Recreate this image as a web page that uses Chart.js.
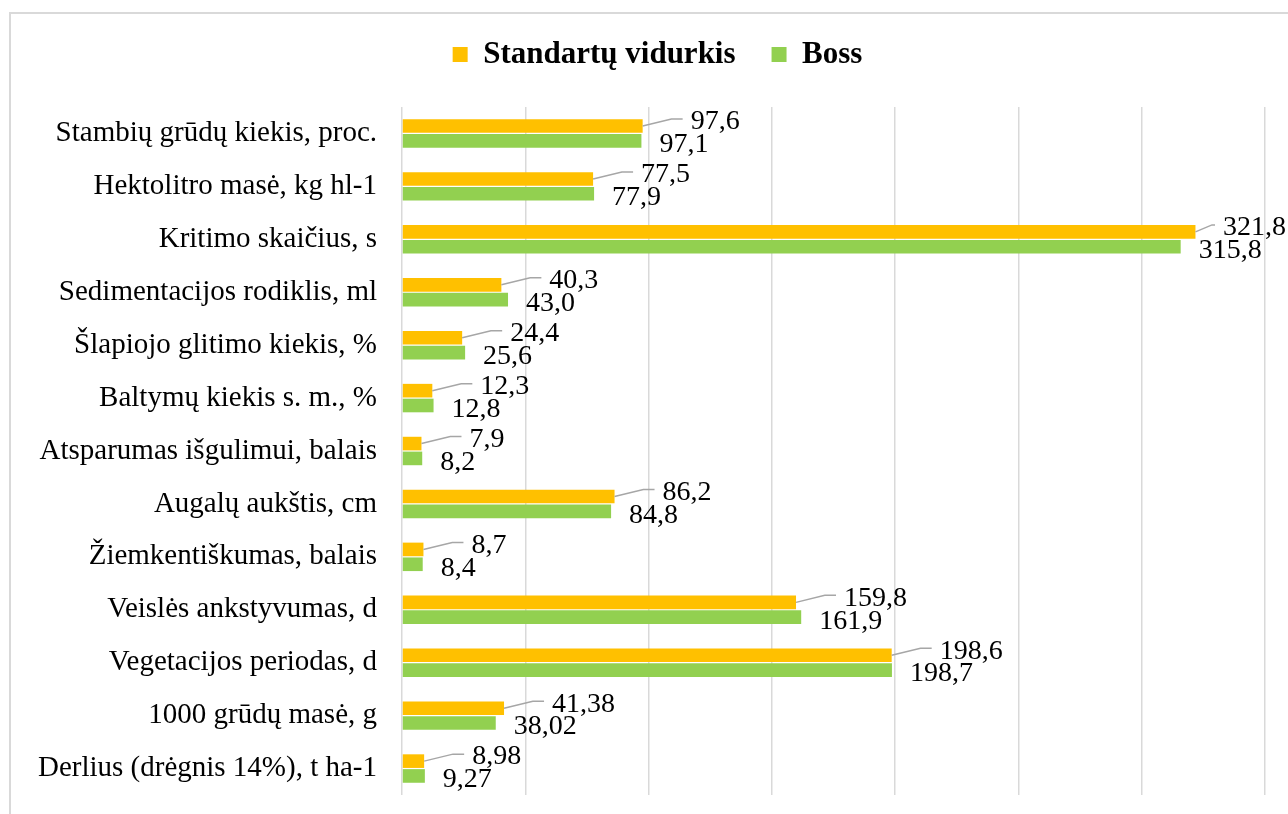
<!DOCTYPE html>
<html>
<head>
<meta charset="utf-8">
<script src="https://cdn.jsdelivr.net/npm/chart.js"></script>
<style>
  html, body { margin: 0; padding: 0; background: #fff; overflow: hidden; }
  #frame { position: absolute; left: 9px; top: 12px; width: 1300px; height: 820px; border: 2px solid #d9d9d9; }
  #wrap { position: absolute; left: 0; top: 0; width: 1288px; height: 814px; }
</style>
</head>
<body>
<div id="frame"></div>
<div id="wrap"><canvas id="myChart" width="1288" height="814"></canvas></div>
<script>
// kategorijos (iš viršaus į apačią)
const categories = [
    'Stambių grūdų kiekis, proc.',
    'Hektolitro masė, kg hl-1',
    'Kritimo skaičius, s',
    'Sedimentacijos rodiklis, ml',
    'Šlapiojo glitimo kiekis, %',
    'Baltymų kiekis s. m., %',
    'Atsparumas išgulimui, balais',
    'Augalų aukštis, cm',
    'Žiemkentiškumas, balais',
    'Veislės ankstyvumas, d',
    'Vegetacijos periodas, d',
    '1000 grūdų masė, g',
    'Derlius (drėgnis 14%), t ha-1'
];
const standartuVidurkis = [97.6, 77.5, 321.8, 40.3, 24.4, 12.3, 7.9, 86.2, 8.7, 159.8, 198.6, 41.38, 8.98];
const boss = [97.1, 77.9, 315.8, 43.0, 25.6, 12.8, 8.2, 84.8, 8.4, 161.9, 198.7, 38.02, 9.27];
// kaip rodomos reikšmės (kableliai)
const standartuLabels = ['97,6', '77,5', '321,8', '40,3', '24,4', '12,3', '7,9', '86,2', '8,7', '159,8', '198,6', '41,38', '8,98'];
const bossLabels = ['97,1', '77,9', '315,8', '43,0', '25,6', '12,8', '8,2', '84,8', '8,4', '161,9', '198,7', '38,02', '9,27'];

const serif = "'Liberation Serif', 'Times New Roman', serif";

// legendos aukštis ir poslinkis, kad sutaptų su originalu
const legendFix = {
    id: 'legendFix',
    afterInit(chart) {
        const legend = chart.legend;
        const origFit = legend.fit;
        legend.fit = function() {
            origFit.call(this);
            this.height = 104;
        };
    },
    afterLayout(chart) {
        chart.legend.left += 20;
        chart.legend.right += 20;
    }
};

// reikšmių užrašai su linijomis
const labelPlugin = {
    id: 'barLabels',
    afterDatasetsDraw(chart) {
        const ctx = chart.ctx;
        ctx.save();
        ctx.font = '28px ' + serif;
        ctx.fillStyle = '#000';
        ctx.textAlign = 'left';
        ctx.textBaseline = 'middle';
        const texts = [standartuLabels, bossLabels];
        chart.data.datasets.forEach((ds, di) => {
            const meta = chart.getDatasetMeta(di);
            meta.data.forEach((bar, i) => {
                const x = bar.x, y = bar.y;
                const txt = texts[di][i];
                if (di === 0) {
                    const w = ctx.measureText(txt).width;
                    // jei netelpa, patraukiam kairiau
                    const gap = Math.min(48, chart.width - 2 - w - x);
                    ctx.strokeStyle = '#a6a6a6';
                    ctx.lineWidth = 1.5;
                    ctx.beginPath();
                    ctx.moveTo(x, y);
                    ctx.lineTo(x + gap * 0.6, y - 7);
                    ctx.lineTo(x + gap - 8, y - 7);
                    ctx.stroke();
                    ctx.fillText(txt, x + gap, y - 4);
                } else {
                    ctx.fillText(txt, x + 18, y + 4);
                }
            });
        });
        ctx.restore();
    }
};

new Chart(document.getElementById('myChart'), {
    type: 'bar',
    data: {
        labels: categories,
        datasets: [
            {
                label: 'Standartų vidurkis',
                data: standartuVidurkis,
                backgroundColor: '#FFC000',
                categoryPercentage: 0.56,
                barPercentage: 0.92
            },
            {
                label: 'Boss',
                data: boss,
                backgroundColor: '#92D050',
                categoryPercentage: 0.56,
                barPercentage: 0.92
            }
        ]
    },
    options: {
        indexAxis: 'y',
        responsive: false,
        animation: false,
        layout: { padding: { top: 3, right: 23, bottom: 19, left: 10 } },
        scales: {
            x: {
                min: 0,
                max: 350,
                ticks: { display: false, stepSize: 50 },
                grid: { color: '#d9d9d9', lineWidth: 1.5, drawTicks: false },
                border: { display: false },
                afterFit(scale) { scale.height = 0; }
            },
            y: {
                grid: { display: false, drawTicks: false },
                border: { display: false },
                ticks: { color: '#000', font: { family: serif, size: 29 }, padding: 25 },
                afterFit(scale) {
                    scale.width = 392;
                    scale.paddingTop = 0;
                    scale.paddingBottom = 0;
                }
            }
        },
        plugins: {
            legend: {
                position: 'top',
                labels: {
                    color: '#000',
                    font: { family: serif, size: 31, weight: 'bold' },
                    usePointStyle: true,
                    pointStyle: 'rect',
                    boxWidth: 15,
                    boxHeight: 15,
                    padding: 36
                }
            },
            tooltip: { enabled: false }
        }
    },
    plugins: [legendFix, labelPlugin]
});
</script>
</body>
</html>
